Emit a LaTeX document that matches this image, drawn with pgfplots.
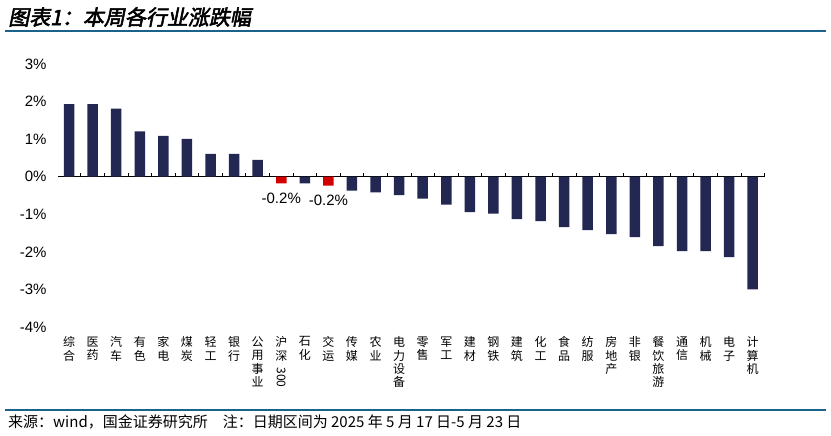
\documentclass[border=0pt]{standalone}
\usepackage{pgfplots}
\pgfplotsset{compat=1.18}
\usepackage{fontspec}
\setmainfont{Liberation Sans}
\newfontfamily\cjk{Noto Sans CJK SC}
\newfontfamily\cjktitle[FakeSlant=0.2,FakeBold=2.5]{Noto Sans CJK SC}
\definecolor{navy}{RGB}{34,40,82}
\definecolor{barred}{RGB}{210,0,0}
\definecolor{rulecol}{RGB}{24,98,140}

\begin{document}
\begin{tikzpicture}
\path[use as bounding box] (0,0) rectangle (831pt,-436pt);
% title and rules
\node[anchor=west, font=\cjktitle\fontsize{21}{22}\selectfont, inner sep=0] at (8pt,-17pt) {图表1：本周各行业涨跌幅};
\draw[rulecol, line width=2pt] (5pt,-31.5pt) -- (826pt,-31.5pt);
\draw[rulecol, line width=2pt] (5pt,-410pt) -- (826pt,-410pt);
\node[anchor=west, font=\cjk\fontsize{15}{16}\selectfont, inner sep=0] at (8pt,-422pt)
  {来源：wind，国金证券研究所\quad 注：日期区间为 2025 年 5 月 17 日-5 月 23 日};

\begin{axis}[
  at={(58pt,-64pt)}, anchor=north west,
  scale only axis, width=707pt, height=263pt,
  xmin=-0.47, xmax=29.52, ymin=-4, ymax=3,
  axis line style={draw=none},
  ytick={-4,...,3},
  yticklabels={-4\%,-3\%,-2\%,-1\%,0\%,1\%,2\%,3\%},
  ytick style={draw=none},
  yticklabel style={font=\fontsize{15}{16}\selectfont, xshift=-8pt},
  xtick={0,...,29},
  xtick style={draw=none},
  xticklabels={{综\\合},{医\\药},{汽\\车},{有\\色},{家\\电},{煤\\炭},{轻\\工},{银\\行},
    {公\\用\\事\\业},{沪\\深\\[-6pt]\rotatebox{-90}{300}},{石\\化},{交\\运},{传\\媒},{农\\业},
    {电\\力\\设\\备},{零\\售},{军\\工},{建\\材},{钢\\铁},{建\\筑},{化\\工},{食\\品},
    {纺\\服},{房\\地\\产},{非\\银},{餐\\饮\\旅\\游},{通\\信},{机\\械},{电\\子},{计\\算\\机}},
  xticklabel style={font=\cjk\fontsize{12}{13.3}\selectfont, align=center, anchor=north, yshift=-2pt},
  ybar, bar width=10.5pt, bar shift=0pt,
  extra y ticks={0}, extra y tick labels={},
  extra y tick style={grid=major, major grid style={black, line width=1pt}},
]
\addplot[fill=navy, draw=none] coordinates {
  (0,1.93) (1,1.93) (2,1.81) (3,1.21) (4,1.09) (5,1.01) (6,0.61) (7,0.61) (8,0.45)
  (10,-0.18) (12,-0.37) (13,-0.42) (14,-0.49) (15,-0.58) (16,-0.74) (17,-0.94)
  (18,-0.98) (19,-1.13) (20,-1.18) (21,-1.34) (22,-1.42) (23,-1.53) (24,-1.61)
  (25,-1.85) (26,-1.98) (27,-1.98) (28,-2.14) (29,-3.00)
};
\addplot[fill=barred, draw=none,
  nodes near coords={\pgfmathprintnumber[fixed,precision=1,assume math mode=true]{\pgfplotspointmeta}\%},
  nodes near coords style={font=\fontsize{15}{16}\selectfont, black, yshift=-6pt}] coordinates {
  (9,-0.18) (11,-0.24)
};
\pgfplotsinvokeforeach{0,...,30}{
  \draw[black, line width=0.8pt] (axis cs:#1-0.5,0) -- ++(0pt,4pt);
}
\end{axis}
\end{tikzpicture}
\end{document}
